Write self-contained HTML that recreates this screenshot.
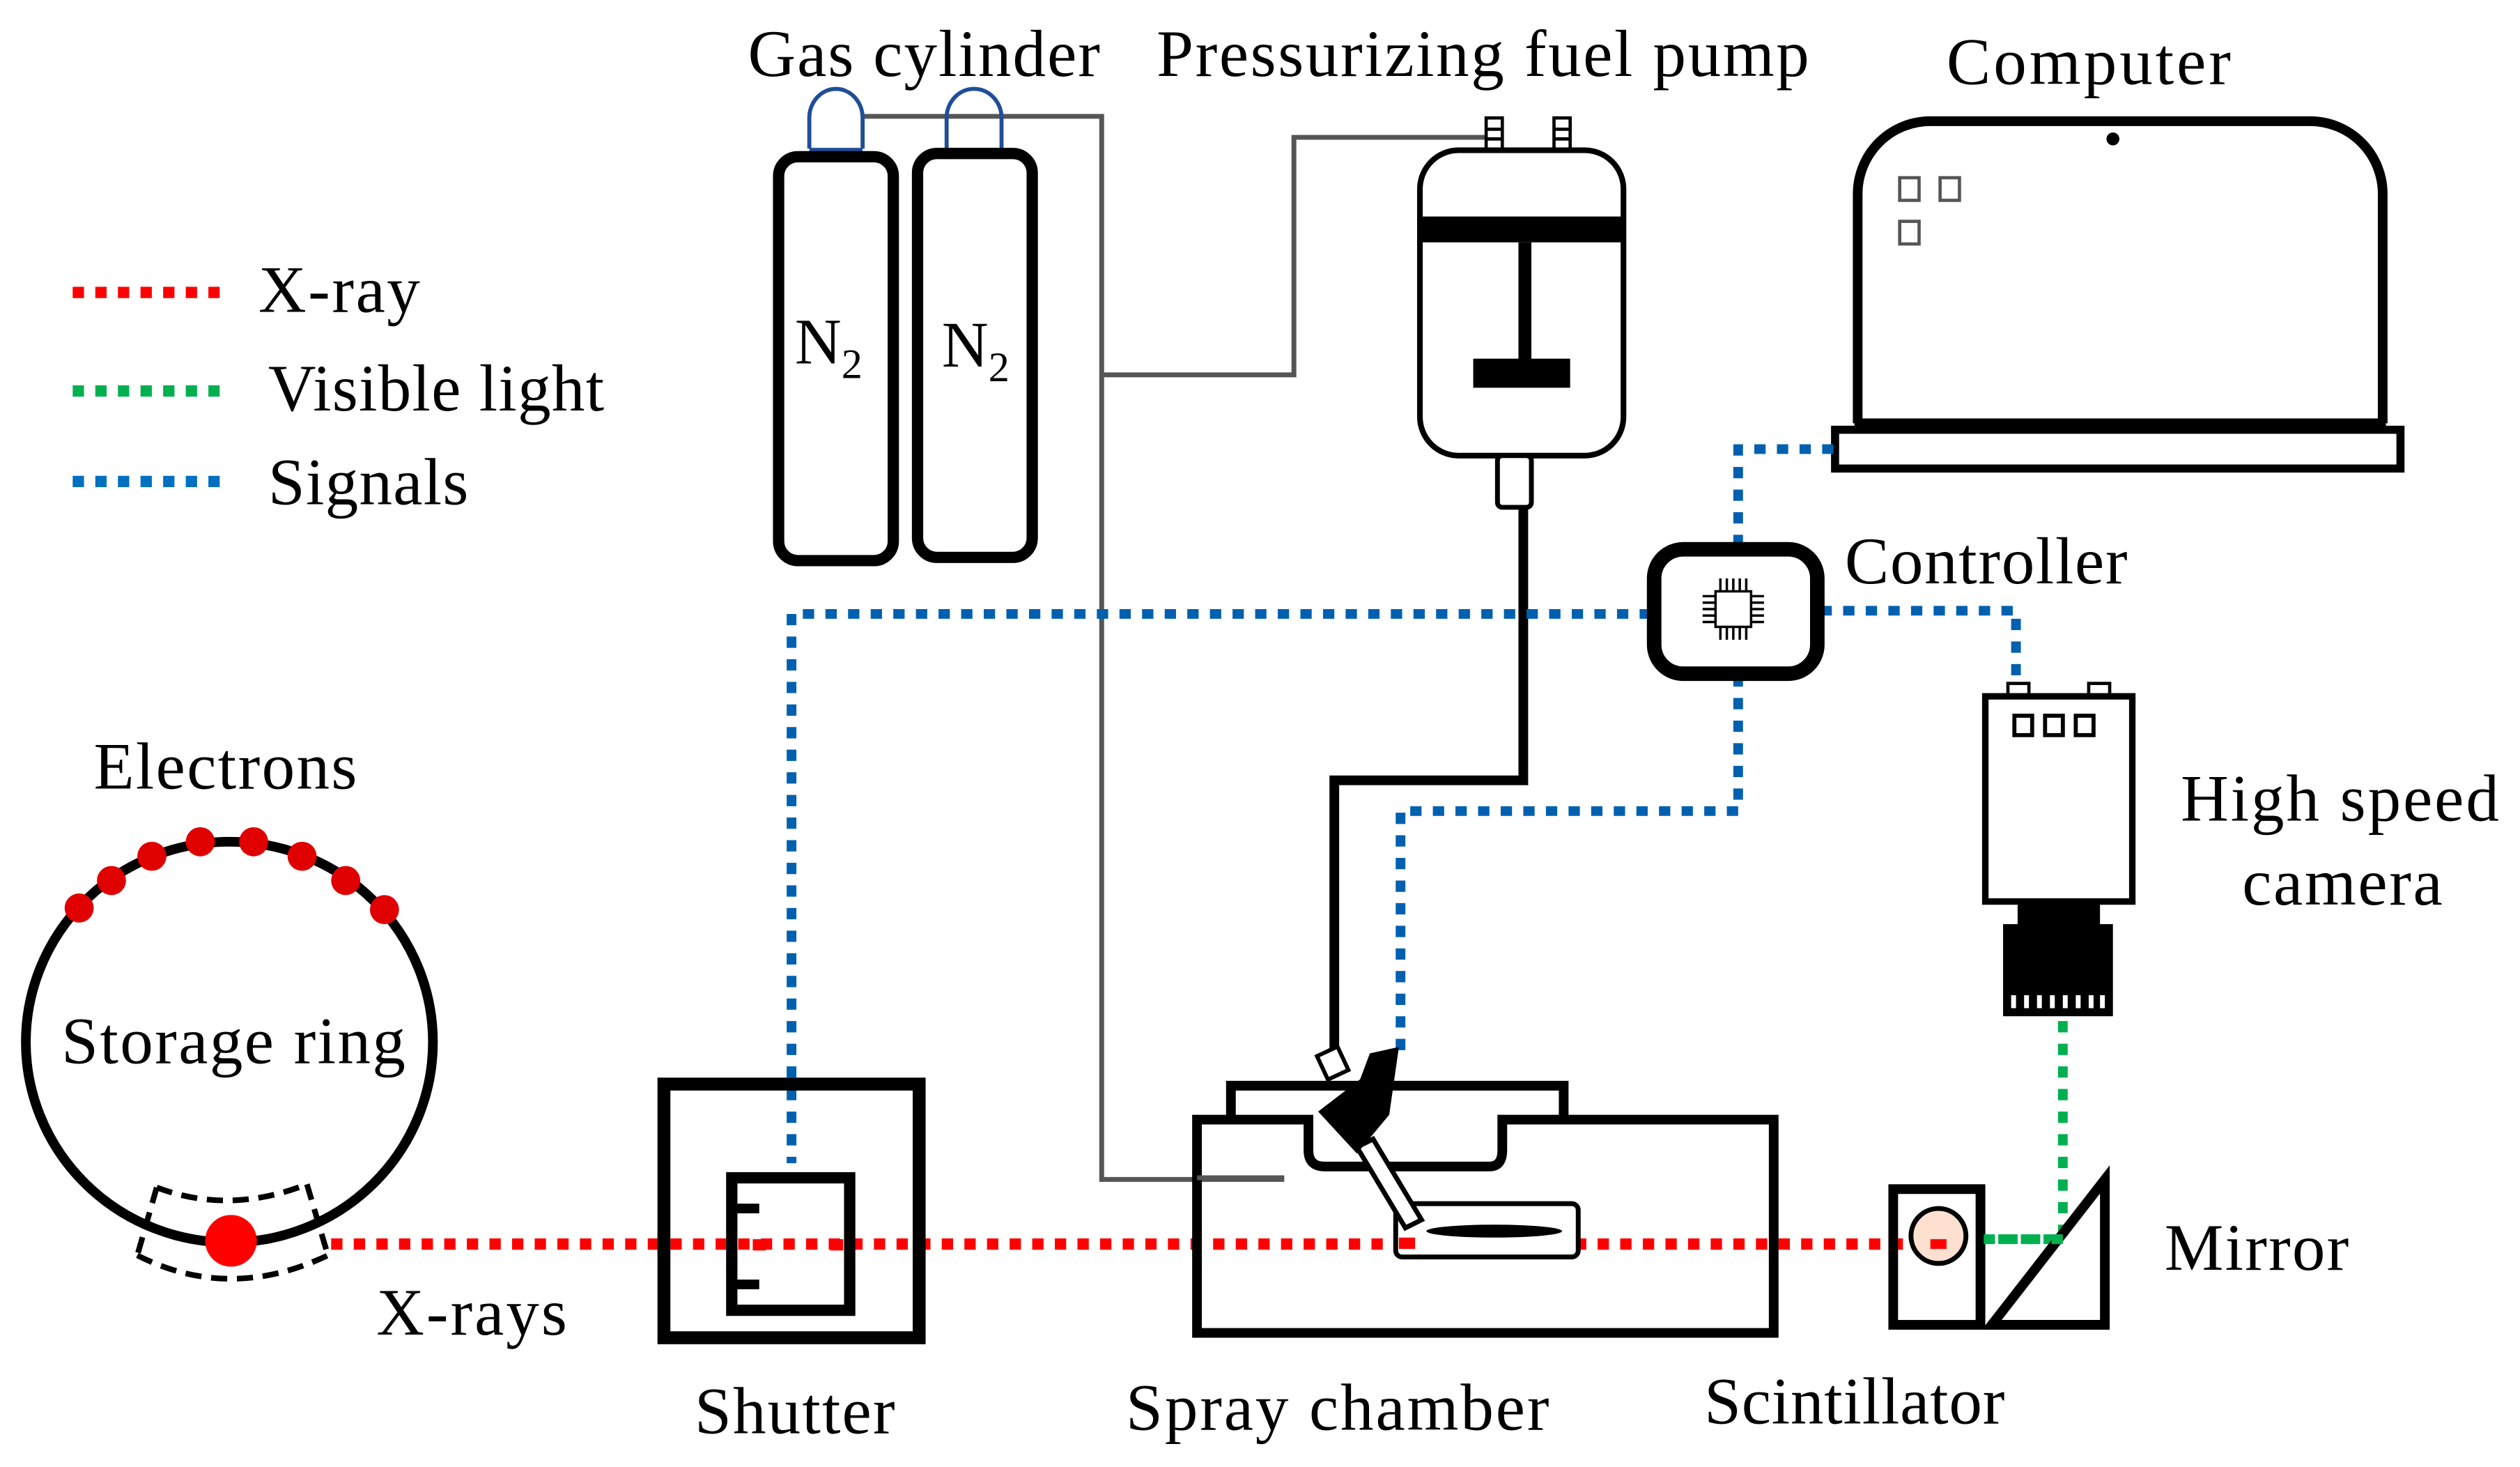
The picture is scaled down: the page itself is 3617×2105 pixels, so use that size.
<!DOCTYPE html>
<html><head><meta charset="utf-8"><style>html,body{margin:0;padding:0;background:#fff}svg{display:block}svg text{font-family:"Liberation Serif","Times New Roman",serif}</style></head>
<body>
<svg width="3617" height="2105" viewBox="0 0 1560 908" preserveAspectRatio="none" xmlns="http://www.w3.org/2000/svg" style="font-family:'Liberation Serif',serif" font-size="41" fill="#000">
<rect width="1560" height="908" fill="#fff"/>
<!-- legend -->
<line x1="45" y1="181" x2="137" y2="181" stroke="#f00" stroke-width="7" stroke-dasharray="7,7"/>
<line x1="45" y1="242" x2="137" y2="242" stroke="#00b050" stroke-width="7" stroke-dasharray="7,7"/>
<line x1="45" y1="298" x2="137" y2="298" stroke="#0070c0" stroke-width="7" stroke-dasharray="7,7"/>
<text x="160" y="193" textLength="100">X-ray</text>
<text x="166" y="254" textLength="208">Visible light</text>
<text x="166" y="312" textLength="124">Signals</text>
<!-- top labels -->
<text x="463" y="47" textLength="218">Gas cylinder</text>
<text x="716" y="47" textLength="404">Pressurizing fuel pump</text>
<text x="1205" y="52" textLength="176">Computer</text>
<!-- gray pipes -->
<g fill="none" stroke="#555" stroke-width="3">
<polyline points="534,72 682,72 682,730 795,730"/>
<polyline points="682,232 801,232 801,85 925,85"/>
</g>
<!-- cylinders -->
<g fill="none" stroke="#1f4e99" stroke-width="2.5">
<path d="M501,92 V73 A16.5,18 0 0 1 534,73 V92"/>
<path d="M586,92 V73 A17,18 0 0 1 620,73 V92"/>
</g>
<line x1="501" y1="93" x2="534" y2="93" stroke="#1f4e99" stroke-width="3"/>
<line x1="586" y1="93" x2="620" y2="93" stroke="#1f4e99" stroke-width="3"/>
<rect x="482" y="97" width="71" height="250" rx="12" fill="#fff" stroke="#000" stroke-width="7"/>
<rect x="568" y="95" width="71" height="250" rx="12" fill="#fff" stroke="#000" stroke-width="7"/>
<text x="492" y="225" font-size="40">N<tspan font-size="26" dy="9">2</tspan></text>
<text x="583" y="227" font-size="40">N<tspan font-size="26" dy="9">2</tspan></text>
<!-- pump -->
<rect x="920" y="73" width="10" height="20" fill="#fff" stroke="#000" stroke-width="2"/>
<rect x="962" y="73" width="10" height="20" fill="#fff" stroke="#000" stroke-width="2"/>
<line x1="920" y1="80" x2="930" y2="80" stroke="#000" stroke-width="2"/><line x1="920" y1="86" x2="930" y2="86" stroke="#000" stroke-width="2"/>
<line x1="962" y1="80" x2="972" y2="80" stroke="#000" stroke-width="2"/><line x1="962" y1="86" x2="972" y2="86" stroke="#000" stroke-width="2"/>
<rect x="879" y="93" width="126" height="189" rx="24" fill="#fff" stroke="#000" stroke-width="3.5"/>
<rect x="879" y="134" width="126" height="16" fill="#000"/>
<rect x="940" y="150" width="8" height="75" fill="#000"/>
<rect x="912" y="222" width="60" height="18" fill="#000"/>
<rect x="927" y="282" width="21" height="32" rx="3" fill="#fff" stroke="#000" stroke-width="3"/>
<polyline points="943,314 943,483 826,483 826,650" fill="none" stroke="#000" stroke-width="6"/>
<!-- computer -->
<path d="M1150,262 V120 A45,45 0 0 1 1195,75 H1430 A45,45 0 0 1 1475,120 V262" fill="none" stroke="#000" stroke-width="6"/>
<circle cx="1308" cy="86" r="4" fill="#000"/>
<g fill="none" stroke="#555" stroke-width="2"><rect x="1176" y="110" width="12" height="14"/><rect x="1201" y="110" width="12" height="14"/><rect x="1176" y="137" width="12" height="14"/></g>
<rect x="1148" y="259" width="329" height="8" fill="#000"/>
<rect x="1136" y="266" width="350" height="24" fill="#fff" stroke="#000" stroke-width="5"/>
<!-- blue signals -->
<g fill="none" stroke="#0060b0" stroke-width="6" stroke-dasharray="7,7">
<polyline points="1135,278 1076,278 1076,338"/>
<polyline points="1022,380 490,380 490,720"/>
<polyline points="1127,378 1248,378 1248,425"/>
<polyline points="1076,418 1076,502 867,502 867,650"/>
</g>
<!-- controller -->
<rect x="1024" y="340" width="101" height="77" rx="18" fill="#fff" stroke="#000" stroke-width="9"/>
<g stroke="#000" stroke-width="1.5" fill="none">
<rect x="1062" y="366" width="22" height="22"/>
<path d="M1065,358v8M1069,358v8M1073,358v8M1077,358v8M1081,358v8M1065,388v8M1069,388v8M1073,388v8M1077,388v8M1081,388v8M1054,369h8M1054,373h8M1054,377h8M1054,381h8M1054,385h8M1084,369h8M1084,373h8M1084,377h8M1084,381h8M1084,385h8"/>
</g>
<text x="1142" y="361" textLength="175">Controller</text>
<!-- camera -->
<rect x="1243" y="423" width="13" height="8" fill="#fff" stroke="#000" stroke-width="2"/>
<rect x="1293" y="423" width="13" height="8" fill="#fff" stroke="#000" stroke-width="2"/>
<rect x="1229" y="431" width="91" height="127" fill="#fff" stroke="#000" stroke-width="4"/>
<g fill="none" stroke="#000" stroke-width="2.5"><rect x="1247" y="443" width="11" height="12"/><rect x="1266" y="443" width="11" height="12"/><rect x="1285" y="443" width="11" height="12"/></g>
<rect x="1249" y="558" width="51" height="16" fill="#000"/>
<rect x="1240" y="572" width="68" height="57" fill="#000"/>
<g fill="#fff"><rect x="1245" y="616" width="3" height="8"/><rect x="1253" y="616" width="3" height="8"/><rect x="1261" y="616" width="3" height="8"/><rect x="1269" y="616" width="3" height="8"/><rect x="1277" y="616" width="3" height="8"/><rect x="1285" y="616" width="3" height="8"/><rect x="1293" y="616" width="3" height="8"/><rect x="1300" y="616" width="3" height="8"/></g>
<text x="1350" y="508" textLength="197">High speed</text>
<text x="1388" y="560" textLength="124">camera</text>
<!-- green -->
<polyline points="1277,632 1277,767 1228,767" fill="none" stroke="#00b050" stroke-width="6" stroke-dasharray="7,7"/>
<!-- red beam -->
<line x1="205" y1="770" x2="1195" y2="770" stroke="#f00" stroke-width="7" stroke-dasharray="7,7"/>
<!-- scintillator & mirror -->
<rect x="1172" y="736" width="54" height="84" fill="none" stroke="#000" stroke-width="6"/>
<circle cx="1200" cy="765" r="17" fill="#fde0d0" stroke="#000" stroke-width="3"/>
<rect x="1195" y="767" width="10" height="6" fill="#f00"/>
<path d="M1303,730 V820 H1233 Z" fill="none" stroke="#000" stroke-width="6" stroke-linejoin="miter"/>
<path d="M1296,748 V813 H1244 Z" fill="#fff"/>
<line x1="1228" y1="767" x2="1277" y2="767" stroke="#00b050" stroke-width="6" stroke-dasharray="7,7"/>
<text x="1340" y="786" textLength="114">Mirror</text>
<text x="1055" y="881" textLength="186">Scintillator</text>
<!-- spray chamber -->
<path d="M762,693 V672 H968 V693" fill="none" stroke="#000" stroke-width="6"/>
<path d="M741,693 H810 V712 Q810,722 820,722 H922 Q930,722 930,712 V693 H1098 V825 H741 Z" fill="none" stroke="#000" stroke-width="6"/>
<line x1="741" y1="729" x2="795" y2="729" stroke="#555" stroke-width="3"/>
<rect x="864" y="745" width="113" height="33" rx="4" fill="#fff" stroke="#000" stroke-width="3"/>
<rect x="866" y="766" width="10" height="7" fill="#f00"/>
<ellipse cx="925" cy="762" rx="42" ry="4" fill="#000"/>
<path d="M850,705 L880,755 L870,760 L840,710 Z" fill="#fff" stroke="#000" stroke-width="3"/>
<path d="M816,688 L842,668 L848,652 L866,648 L860,690 L840,714 Z" fill="#000"/>
<rect x="818" y="650" width="14" height="16" transform="rotate(-25 825 658)" fill="#fff" stroke="#000" stroke-width="2.5"/>
<text x="697" y="885" textLength="262">Spray chamber</text>
<!-- shutter -->
<rect x="411" y="671" width="158" height="157" fill="none" stroke="#000" stroke-width="8"/>
<rect x="453" y="729" width="73" height="82" fill="none" stroke="#000" stroke-width="7"/>
<rect x="456" y="745" width="14" height="6" fill="#000"/>
<rect x="456" y="792" width="14" height="6" fill="#000"/>
<rect x="466" y="767" width="8" height="7" fill="#f00"/>
<rect x="514" y="767" width="8" height="7" fill="#f00"/>
<text x="430" y="887" textLength="124">Shutter</text>
<!-- storage ring -->
<ellipse cx="142" cy="645" rx="126" ry="124" fill="none" stroke="#000" stroke-width="6"/>
<g fill="#e00000">
<circle cx="49" cy="562" r="9"/><circle cx="69" cy="545" r="9"/><circle cx="94" cy="530" r="9"/><circle cx="124" cy="521" r="9"/><circle cx="157" cy="521" r="9"/><circle cx="187" cy="530" r="9"/><circle cx="214" cy="545" r="9"/><circle cx="238" cy="563" r="9"/>
</g>
<g fill="none" stroke="#000" stroke-width="3.5" stroke-dasharray="10,6">
<path d="M97,735 Q142,752 190,733"/>
<path d="M85,777 Q142,806 203,777"/>
<line x1="97" y1="735" x2="85" y2="777"/><line x1="190" y1="733" x2="203" y2="777"/>
</g>
<circle cx="143" cy="768" r="16" fill="#f00"/>
<text x="38" y="658" textLength="213">Storage ring</text>
<text x="58" y="488" textLength="163">Electrons</text>
<text x="233" y="826" textLength="118">X-rays</text>
</svg>
</body></html>
